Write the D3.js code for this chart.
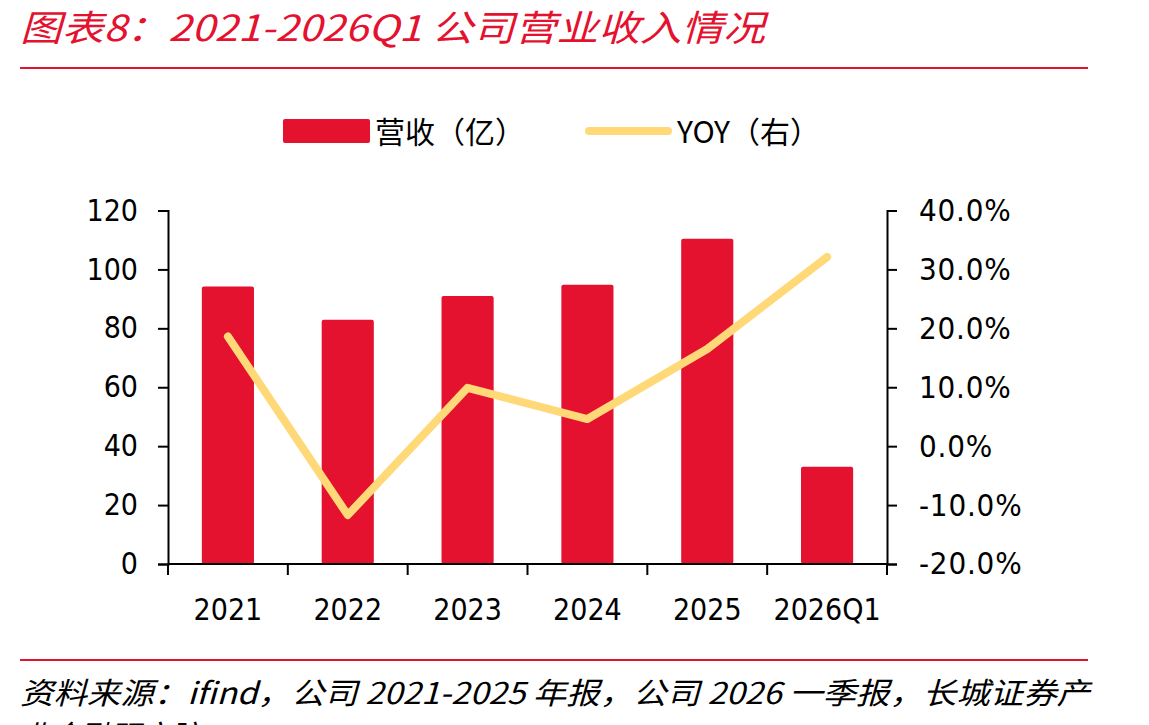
<!DOCTYPE html>
<html>
<head>
<meta charset="utf-8">
<script src="https://cdn.jsdelivr.net/npm/d3@7"></script>
<style>
  body { margin: 0; background: #fff; }
  svg { display: block; }
</style>
</head>
<body>
<script>
var categories = ["2021", "2022", "2023", "2024", "2025", "2026Q1"];
var revenue = [94.2, 82.9, 91.0, 94.8, 110.4, 33.0];   // 营收（亿）
var yoy = [18.6, -11.7, 9.9, 4.6, 16.5, 32.1];          // YOY %
var leftTicks = [0, 20, 40, 60, 80, 100, 120];
var rightTicks = [-20, -10, 0, 10, 20, 30, 40];

var W = 1149, H = 725;
var red = "#e4112f", yellow = "#ffd878";
var numFont = "'DejaVu Sans Condensed', 'DejaVu Sans', sans-serif";
var cjkFont = "'Noto Sans CJK SC', sans-serif";

var svg = d3.select("body").append("svg")
    .attr("width", W)
    .attr("height", H);

// title + rules
svg.append("text")
    .attr("x", 20).attr("y", 41)
    .attr("fill", red)
    .attr("font-family", cjkFont)
    .attr("font-size", 36)
    .attr("font-style", "italic")
    .attr("textLength", 745)
    .attr("lengthAdjust", "spacingAndGlyphs")
    .text("图表8：2021-2026Q1 公司营业收入情况");
svg.append("line").attr("x1", 20).attr("x2", 1088).attr("y1", 68).attr("y2", 68)
    .attr("stroke", red).attr("stroke-width", 2);
svg.append("line").attr("x1", 20).attr("x2", 1088).attr("y1", 660).attr("y2", 660)
    .attr("stroke", red).attr("stroke-width", 2);

// source (second line is cut by the bottom edge, as in the original)
svg.append("text")
    .attr("x", 20).attr("y", 704)
    .attr("font-family", cjkFont)
    .attr("font-size", 30)
    .attr("font-style", "italic")
    .attr("textLength", 1070)
    .attr("lengthAdjust", "spacingAndGlyphs")
    .text("资料来源：ifind，公司 2021-2025 年报，公司 2026 一季报，长城证券产");
svg.append("text")
    .attr("x", 20).attr("y", 747)
    .attr("font-family", cjkFont)
    .attr("font-size", 30)
    .attr("font-style", "italic")
    .text("业金融研究院");

// scales
var x = d3.scaleBand().domain(categories).range([168, 887]).padding(0);
var yL = d3.scaleLinear().domain([0, 120]).range([564, 210.5]);
var yR = d3.scaleLinear().domain([-20, 40]).range([564, 210.5]);
var barW = x.bandwidth() * 0.435;

// bars
svg.append("g").selectAll("rect")
    .data(revenue)
    .enter().append("rect")
    .attr("x", function (d, i) { return x(categories[i]) + (x.bandwidth() - barW) / 2; })
    .attr("y", function (d) { return yL(d); })
    .attr("width", barW)
    .attr("height", function (d) { return yL(0) - yL(d); })
    .attr("rx", 2)
    .attr("fill", red);

// axes
var axL = svg.append("g").attr("transform", "translate(168,0)")
    .call(d3.axisLeft(yL).tickValues(leftTicks).tickSize(10).tickPadding(20));
var axR = svg.append("g").attr("transform", "translate(887,0)")
    .call(d3.axisRight(yR).tickValues(rightTicks).tickSize(10).tickPadding(22)
        .tickFormat(function (d) { return d.toFixed(1) + "%"; }));
var axB = svg.append("g").attr("transform", "translate(0,564)")
    .call(d3.axisBottom(x).tickSize(0).tickPadding(35));

[axL, axR, axB].forEach(function (g) {
    g.selectAll("path.domain").attr("stroke", "#000").attr("stroke-width", 2);
    g.selectAll(".tick line").attr("stroke", "#000").attr("stroke-width", 2);
    g.selectAll("text").attr("font-family", numFont).attr("font-size", 30).attr("fill", "#000");
});
axR.selectAll("text").attr("font-size", 31).attr("letter-spacing", 0.8);
axB.select("path.domain").remove();
svg.append("line").attr("x1", 168).attr("x2", 887).attr("y1", 564).attr("y2", 564)
    .attr("stroke", "#000").attr("stroke-width", 2);
svg.append("g").selectAll("line")
    .data(categories.map(function (c) { return x(c); }).concat([887]))
    .enter().append("line")
    .attr("x1", function (d) { return d; }).attr("x2", function (d) { return d; })
    .attr("y1", 564).attr("y2", 575)
    .attr("stroke", "#000").attr("stroke-width", 2);

// yoy line
var line = d3.line()
    .x(function (d, i) { return x(categories[i]) + x.bandwidth() / 2; })
    .y(function (d) { return yR(d); });
svg.append("path")
    .datum(yoy)
    .attr("d", line)
    .attr("fill", "none")
    .attr("stroke", yellow)
    .attr("stroke-width", 8)
    .attr("stroke-linecap", "round")
    .attr("stroke-linejoin", "round");

// legend
var leg = svg.append("g");
leg.append("rect").attr("x", 283).attr("y", 119).attr("width", 87).attr("height", 24)
    .attr("rx", 2).attr("fill", red);
leg.append("text").attr("x", 375).attr("y", 143)
    .attr("font-family", cjkFont).attr("font-size", 30).text("营收（亿）");
leg.append("line").attr("x1", 589).attr("x2", 668).attr("y1", 131).attr("y2", 131)
    .attr("stroke", yellow).attr("stroke-width", 8).attr("stroke-linecap", "round");
leg.append("text").attr("x", 677).attr("y", 143)
    .attr("font-family", cjkFont).attr("font-size", 30).text("YOY（右）");
</script>
</body>
</html>
